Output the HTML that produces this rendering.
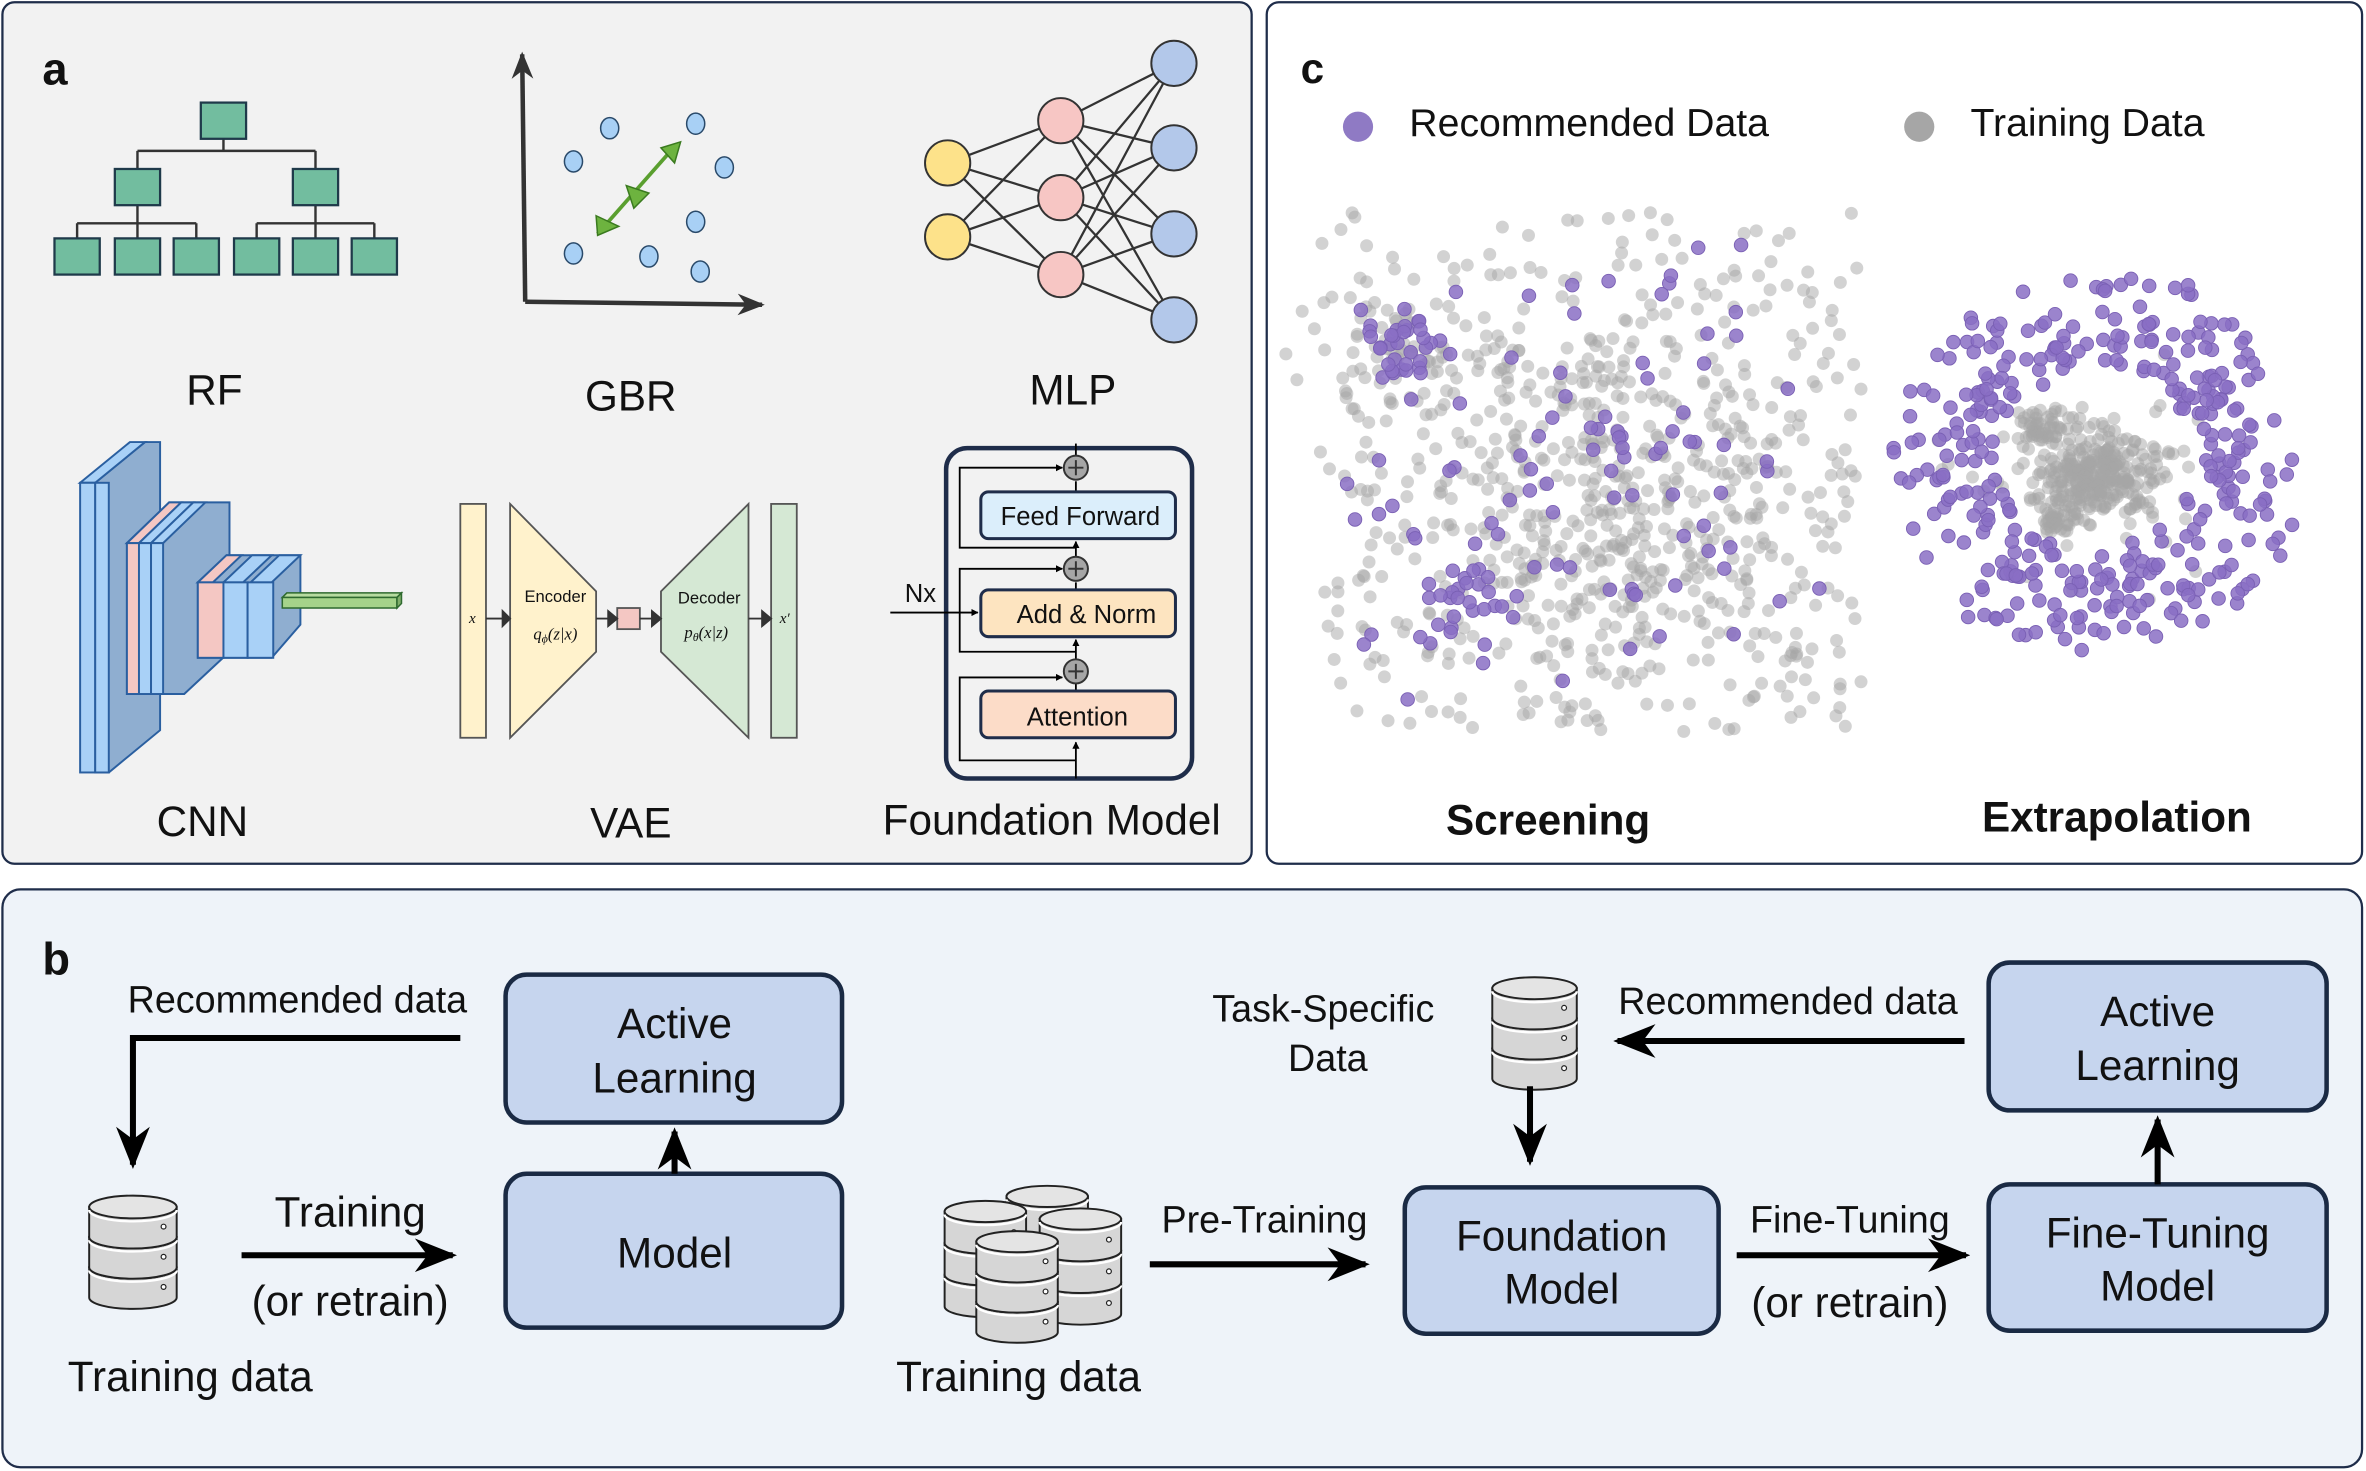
<!DOCTYPE html>
<html><head><meta charset="utf-8"><style>
html,body{margin:0;padding:0;background:#fff;}
svg{display:block;}
text{font-family:"Liberation Sans",Arial,sans-serif;fill:#111;}
</style></head><body>
<svg id="s" width="2366" height="1471" viewBox="0 0 1568 975" xmlns="http://www.w3.org/2000/svg">
<defs>
<marker id="ah" viewBox="0 0 10 10" refX="9" refY="5" markerWidth="4" markerHeight="4" orient="auto"><path d="M0,0L10,5L0,10z" fill="#000"/></marker>
<marker id="ahs" viewBox="0 0 10 10" refX="9" refY="5" markerWidth="6" markerHeight="6" orient="auto"><path d="M0,1L10,5L0,9L3,5z" fill="#333"/></marker>
<marker id="ahn" viewBox="0 0 10 10" refX="9" refY="5" markerWidth="7" markerHeight="7" orient="auto"><path d="M0,1L10,5L0,9L3,5z" fill="#000"/></marker>
</defs>
<rect x="1.5" y="1.5" width="828" height="571" rx="8" fill="#f2f2f2" stroke="#1f2d4a" stroke-width="1.5"/>
<rect x="839.5" y="1.5" width="726" height="571" rx="8" fill="#fff" stroke="#1f2d4a" stroke-width="1.5"/>
<rect x="1.5" y="589.5" width="1564" height="383" rx="12" fill="#eef3f9" stroke="#1f2d4a" stroke-width="1.5"/>

<text x="28" y="56" font-size="30" font-weight="bold">a</text>
<g stroke="#333" stroke-width="1.6" fill="none">
<path d="M148,92V100M91,100H209M91,100V112M209,100V112M91,136V158M209,136V158M51,148H130M51,148V158M130,148V158M170,148H248M170,148V158M248,148V158"/>
</g>
<g fill="#72bd9f" stroke="#1f3a4a" stroke-width="1.5">
<rect x="133" y="68" width="30" height="24"/>
<rect x="76" y="112" width="30" height="24"/><rect x="194" y="112" width="30" height="24"/>
<rect x="36" y="158" width="30" height="24"/><rect x="76" y="158" width="30" height="24"/><rect x="115" y="158" width="30" height="24"/>
<rect x="155" y="158" width="30" height="24"/><rect x="194" y="158" width="30" height="24"/><rect x="233" y="158" width="30" height="24"/>
</g>
<g stroke="#333" stroke-width="3" fill="none">
<path d="M348,200L346,36" marker-end="url(#ahs)"/>
<path d="M348,200L505,202" marker-end="url(#ahs)"/>
</g>
<g fill="#a8d0f5" stroke="#2a4a6a" stroke-width="1">
<ellipse cx="404" cy="85" rx="6" ry="7"/><ellipse cx="380" cy="107" rx="6" ry="7"/><ellipse cx="461" cy="82" rx="6" ry="7"/>
<ellipse cx="480" cy="111" rx="6" ry="7"/><ellipse cx="380" cy="168" rx="6" ry="7"/><ellipse cx="430" cy="170" rx="6" ry="7"/>
<ellipse cx="461" cy="147" rx="6" ry="7"/><ellipse cx="464" cy="180" rx="6" ry="7"/>
</g>
<g fill="#6db33f" stroke="#3a7a1f" stroke-width="1">
<path d="M396,155L448,96" stroke="#5a9f2f" stroke-width="2.5"/>
<path d="M395,143L410,150L396,156z"/><path d="M415,123L430,128L420,138z"/><path d="M438,98L451,94L447,108z"/>
</g>
<g stroke="#333" stroke-width="1.5">
<path d="M628,108L703,80M628,108L703,131M628,108L703,182M628,157L703,80M628,157L703,131M628,157L703,182"/>
<path d="M703,80L778,42M703,80L778,98M703,80L778,155M703,80L778,212M703,131L778,42M703,131L778,98M703,131L778,155M703,131L778,212M703,182L778,42M703,182L778,98M703,182L778,155M703,182L778,212"/>
</g>
<g stroke="#333" stroke-width="1.3">
<circle cx="628" cy="108" r="15" fill="#fde28a"/><circle cx="628" cy="157" r="15" fill="#fde28a"/>
<circle cx="703" cy="80" r="15" fill="#f7c6c4"/><circle cx="703" cy="131" r="15" fill="#f7c6c4"/><circle cx="703" cy="182" r="15" fill="#f7c6c4"/>
<circle cx="778" cy="42" r="15" fill="#b3c8ea"/><circle cx="778" cy="98" r="15" fill="#b3c8ea"/><circle cx="778" cy="155" r="15" fill="#b3c8ea"/><circle cx="778" cy="212" r="15" fill="#b3c8ea"/>
</g>
<text x="142" y="268" font-size="28" text-anchor="middle">RF</text>
<text x="418" y="272" font-size="28" text-anchor="middle">GBR</text>
<text x="711" y="268" font-size="28" text-anchor="middle">MLP</text>
<g stroke="#2a5fa0" stroke-width="1.3">
<polygon points="63,320 96,293 106,293 106,484 72,512 63,512" fill="#8faed0"/>
<polygon points="53,320 86,293 96,293 63,320" fill="#a9d1f7"/>
<rect x="53" y="320" width="10" height="192" fill="#a9d1f7"/><rect x="63" y="320" width="9" height="192" fill="#a9d1f7"/>
<polygon points="84,360 112,333 152,333 152,432 122,460 84,460" fill="#8faed0"/>
<polygon points="84,360 112,333 120,333 92,360" fill="#f4c7c3"/><polygon points="92,360 120,333 128,333 100,360" fill="#a9d1f7"/><polygon points="100,360 128,333 136,333 108,360" fill="#a9d1f7"/>
<rect x="84" y="360" width="8" height="100" fill="#f4c7c3"/><rect x="92" y="360" width="8" height="100" fill="#a9d1f7"/><rect x="100" y="360" width="8" height="100" fill="#a9d1f7"/>
<polygon points="131,386 150,368 199,368 199,414 180,436 131,436" fill="#8faed0"/>
<polygon points="131,386 150,368 160,368 141,386" fill="#f4c7c3"/><polygon points="148,386 167,368 180,368 161,386" fill="#a9d1f7"/><polygon points="166,386 185,368 199,368 180,386" fill="#a9d1f7"/>
<rect x="131" y="386" width="17" height="50" fill="#f4c7c3"/><rect x="148" y="386" width="16" height="50" fill="#a9d1f7"/><rect x="164" y="386" width="17" height="50" fill="#a9d1f7"/>
</g>
<g stroke="#2f6a2f" stroke-width="1"><polygon points="187,396 190,393 266,393 263,396" fill="#b7dba0"/><rect x="187" y="396" width="76" height="7" fill="#a5d38a"/><polygon points="263,396 266,393 266,400 263,403" fill="#7fae6a"/></g>
<g stroke="#555" stroke-width="1.2">
<rect x="305" y="334" width="17" height="155" fill="#fff2cc"/>
<polygon points="338,334 395,392 395,432 338,489" fill="#fff2cc"/>
<rect x="409" y="403" width="15" height="14" fill="#f4c7c3"/>
<polygon points="438,392 496,334 496,489 438,432" fill="#d5e8d4"/>
<rect x="511" y="334" width="17" height="155" fill="#d5e8d4"/>
</g>
<g stroke="#333" stroke-width="1.2" fill="#333">
<path d="M322,410H333"/><path d="M333,405L338,410L333,415z"/>
<path d="M395,410H404"/><path d="M403,405L409,410L403,415z"/>
<path d="M424,410H432"/><path d="M432,405L438,410L432,415z"/>
<path d="M496,410H505"/><path d="M505,405L511,410L505,415z"/>
</g>
<text x="313" y="413" font-size="10" font-style="italic" text-anchor="middle" style="font-family:'Liberation Serif',serif">x</text>
<text x="520" y="413" font-size="10" font-style="italic" text-anchor="middle" style="font-family:'Liberation Serif',serif">x′</text>
<text x="368" y="399" font-size="11" text-anchor="middle">Encoder</text>
<text x="368" y="424" font-size="11" font-style="italic" text-anchor="middle" style="font-family:'Liberation Serif',serif">q<tspan font-size="8" dy="2">ϕ</tspan><tspan dy="-2">(z|x)</tspan></text>
<text x="470" y="400" font-size="11" text-anchor="middle">Decoder</text>
<text x="468" y="423" font-size="11" font-style="italic" text-anchor="middle" style="font-family:'Liberation Serif',serif">p<tspan font-size="8" dy="2">θ</tspan><tspan dy="-2">(x|z)</tspan></text>
<rect x="627" y="297" width="163" height="219" rx="14" fill="#f2f2f2" stroke="#1f2d4a" stroke-width="3"/>
<g stroke="#000" stroke-width="1.2" fill="none">
<path d="M713,516V492" marker-end="url(#ah)"/>
<path d="M713,504H636V449H704" marker-end="url(#ah)"/>
<path d="M713,453V458"/>
<path d="M713,437V424" marker-end="url(#ah)"/>
<path d="M713,391V386"/>
<path d="M713,432H636V377H704" marker-end="url(#ah)"/>
<path d="M713,369V359" marker-end="url(#ah)"/>
<path d="M713,326V319"/>
<path d="M713,363H636V310H704" marker-end="url(#ah)"/>
<path d="M713,302V294"/>
<path d="M590,406H648" marker-end="url(#ah)"/>
</g>
<rect x="650" y="326" width="129" height="31" rx="5" fill="#dbeefb" stroke="#1f2d4a" stroke-width="2"/>
<rect x="650" y="391" width="129" height="31" rx="5" fill="#fde4c0" stroke="#1f2d4a" stroke-width="2"/>
<rect x="650" y="458" width="129" height="31" rx="5" fill="#fcdcc8" stroke="#1f2d4a" stroke-width="2"/>
<g stroke="#333" stroke-width="1.3"><circle cx="713" cy="310" r="8" fill="#a6a6a6"/><circle cx="713" cy="377" r="8" fill="#a6a6a6"/><circle cx="713" cy="445" r="8" fill="#a6a6a6"/>
<path d="M708,310H718M713,305V315M708,377H718M713,372V382M708,445H718M713,440V450"/></g>
<text x="716" y="348" font-size="17" text-anchor="middle">Feed Forward</text>
<text x="720" y="413" font-size="17" text-anchor="middle">Add &amp; Norm</text>
<text x="714" y="481" font-size="17" text-anchor="middle">Attention</text>
<text x="610" y="399" font-size="17" text-anchor="middle">Nx</text>
<text x="134" y="554" font-size="28" text-anchor="middle">CNN</text>
<text x="418" y="555" font-size="28" text-anchor="middle">VAE</text>
<text x="697" y="553" font-size="28" text-anchor="middle">Foundation Model</text>

<text x="862" y="55" font-size="28" font-weight="bold">c</text>
<circle cx="900" cy="84" r="10" fill="#8f7ac4"/>
<text x="934" y="90" font-size="26">Recommended Data</text>
<circle cx="1272" cy="84" r="10" fill="#a6a6a6"/>
<text x="1306" y="90" font-size="26">Training Data</text>
<g id="sc"></g>
<text x="1026" y="553" font-size="28" font-weight="bold" text-anchor="middle" fill="#222">Screening</text>
<text x="1403" y="551" font-size="28" font-weight="bold" text-anchor="middle" fill="#222">Extrapolation</text>

<text x="28" y="646" font-size="30" font-weight="bold">b</text>
<g id="db"></g>
<g fill="#c6d5ee" stroke="#1a2a44" stroke-width="3">
<rect x="335" y="646" width="223" height="98" rx="14"/>
<rect x="335" y="778" width="223" height="102" rx="14"/>
<rect x="931" y="787" width="208" height="97" rx="14"/>
<rect x="1318" y="785" width="224" height="97" rx="14"/>
<rect x="1318" y="638" width="224" height="98" rx="14"/>
</g>
<g font-size="28" text-anchor="middle">
<text x="447" y="688">Active</text><text x="447" y="724">Learning</text>
<text x="447" y="840">Model</text>
<text x="1035" y="829">Foundation</text><text x="1035" y="864">Model</text>
<text x="1430" y="827">Fine-Tuning</text><text x="1430" y="862">Model</text>
<text x="1430" y="680">Active</text><text x="1430" y="716">Learning</text>
</g>
<g stroke="#000" stroke-width="4" fill="none">
<path d="M305,688H88V772" marker-end="url(#ahn)"/>
<path d="M447,778V750" marker-end="url(#ahn)"/>
<path d="M160,832H300" marker-end="url(#ahn)"/>
<path d="M762,838H905" marker-end="url(#ahn)"/>
<path d="M1151,832H1303" marker-end="url(#ahn)"/>
<path d="M1430,785V742" marker-end="url(#ahn)"/>
<path d="M1302,690H1072" marker-end="url(#ahn)"/>
<path d="M1014,720V770" marker-end="url(#ahn)"/>
</g>
<g font-size="25" text-anchor="middle">
<text x="197" y="671">Recommended data</text>
<text x="232" y="813" font-size="28">Training</text>
<text x="232" y="872" font-size="28">(or retrain)</text>
<text x="126" y="922" font-size="28">Training data</text>
<text x="675" y="922" font-size="28">Training data</text>
<text x="838" y="817">Pre-Training</text>
<text x="1226" y="817">Fine-Tuning</text>
<text x="1226" y="873" font-size="28">(or retrain)</text>
<text x="1185" y="672">Recommended data</text>
<text x="877" y="677">Task-Specific</text>
<text x="880" y="710">Data</text>
</g>
</svg>
<script>
(function(){
var NS="http://www.w3.org/2000/svg";
function el(p,t,a){var e=document.createElementNS(NS,t);for(var k in a)e.setAttribute(k,a[k]);p.appendChild(e);return e;}
var s=12345;function r(){s=(s*1103515245+12345)%2147483648;return s/2147483648;}
function g(){var u=r()||1e-6,v=r();return Math.sqrt(-2*Math.log(u))*Math.cos(2*Math.PI*v);}
var sc=document.getElementById('sc');
var G={fill:'#a6a6a6','fill-opacity':'0.5',r:'4.3'},P={fill:'#8a6fc4','fill-opacity':'0.85',r:'4.5',stroke:'#7a60b4','stroke-width':'0.6'};
function dot(x,y,a){var o={cx:x.toFixed(1),cy:y.toFixed(1)};for(var k in a)o[k]=a[k];el(sc,'circle',o);}
var i,x,y;
for(i=0;i<520;i++){x=1070+g()*80;y=330+g()*70;if(x>872&&x<1235&&y>130&&y<488)dot(x,y,G);}
for(i=0;i<280;i++){x=875+r()*360;y=140+r()*345;dot(x,y,G);}
for(i=0;i<60;i++){dot(925+g()*25,230+g()*20,G);}
for(i=0;i<35;i++){dot(925+g()*16,232+g()*14,P);}
for(i=0;i<25;i++){dot(960+g()*15,395+g()*18,P);}
for(i=0;i<95;i++){x=1050+g()*70;y=310+g()*80;if(x>880&&x<1230&&y>150&&y<470)dot(x,y,P);}
for(i=0;i<300;i++){dot(1390+g()*22,314+g()*14,G);}
for(i=0;i<45;i++){dot(1352+g()*7,282+g()*7,G);}
for(i=0;i<35;i++){dot(1363+g()*6,346+g()*6,G);}
for(i=0;i<40;i++){dot(1390+g()*40,310+g()*30,G);}
for(i=0;i<360;i++){var a=r()*2*Math.PI,f=0.5+0.5*r();x=1390+Math.cos(a)*138*f+g()*4;y=305+Math.sin(a)*125*f+g()*4;dot(x,y,P);}
var db=document.getElementById('db');
function cyl(cx,top,w,seg,n){var rx=w/2,ry=w*0.13;
 for(var k=n-1;k>=0;k--){var y0=top+k*seg;
  el(db,'path',{d:'M'+(cx-rx)+','+y0+'V'+(y0+seg)+'A'+rx+','+ry+' 0 0 0 '+(cx+rx)+','+(y0+seg)+'V'+y0+'z',fill:'#d6d6d6',stroke:'#222','stroke-width':'1.3'});
  el(db,'ellipse',{cx:cx,cy:y0,rx:rx,ry:ry,fill:k==0?'#e4e4e4':'#d6d6d6',stroke:'#222','stroke-width':'1.3'});
  el(db,'path',{d:'M'+(cx-rx)+','+(y0+2)+'A'+rx+','+ry+' 0 0 0 '+(cx+rx)+','+(y0+2),fill:'none',stroke:'#fff','stroke-width':'1.5'});
  el(db,'circle',{cx:cx+rx*0.7,cy:y0+seg*0.65,r:1.6,fill:'#fff',stroke:'#222','stroke-width':'0.8'});
 }}
cyl(88,800,58,20,3);
cyl(1017,655,56,20,3);
cyl(694,793,54,20,3);
cyl(653,803,54,21,3);
cyl(716,808,54,21,3);
cyl(674,823,54,20,3);
})();
</script>
</body></html>
